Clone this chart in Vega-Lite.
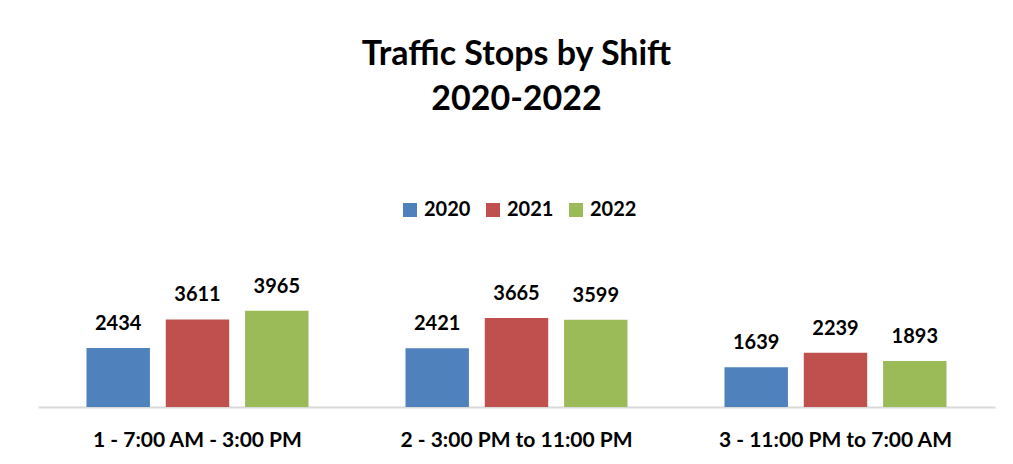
{
  "$schema": "https://vega.github.io/schema/vega-lite/v6.json",
  "width": 957,
  "height": 194,
  "autosize": {"type": "none"},
  "padding": {"left": 38, "top": 213, "right": 18, "bottom": 57},
  "background": "white",
  "title": {
    "text": ["Traffic Stops by Shift", "2020-2022"],
    "font": "Lato",
    "fontSize": 34,
    "fontWeight": "bold",
    "color": "black",
    "lineHeight": 45,
    "anchor": "middle",
    "offset": 83
  },
  "data": {
    "values": [
      {"shift": "1 - 7:00 AM - 3:00 PM", "year": "2020", "stops": 2434},
      {"shift": "1 - 7:00 AM - 3:00 PM", "year": "2021", "stops": 3611},
      {"shift": "1 - 7:00 AM - 3:00 PM", "year": "2022", "stops": 3965},
      {"shift": "2 - 3:00 PM to 11:00 PM", "year": "2020", "stops": 2421},
      {"shift": "2 - 3:00 PM to 11:00 PM", "year": "2021", "stops": 3665},
      {"shift": "2 - 3:00 PM to 11:00 PM", "year": "2022", "stops": 3599},
      {"shift": "3 - 11:00 PM to 7:00 AM", "year": "2020", "stops": 1639},
      {"shift": "3 - 11:00 PM to 7:00 AM", "year": "2021", "stops": 2239},
      {"shift": "3 - 11:00 PM to 7:00 AM", "year": "2022", "stops": 1893}
    ]
  },
  "encoding": {
    "x": {
      "field": "shift",
      "type": "nominal",
      "sort": null,
      "scale": {"paddingInner": 0.304, "paddingOuter": 0.152},
      "axis": {
        "title": null,
        "labelAngle": 0,
        "domainColor": "#d9d9d9",
        "domainWidth": 2,
        "ticks": false,
        "labelFont": "Lato",
        "labelFontSize": 21,
        "labelFontWeight": "bold",
        "labelColor": "black",
        "labelPadding": 22,
        "labelLimit": 0
      }
    },
    "xOffset": {
      "field": "year",
      "type": "nominal",
      "scale": {"paddingInner": 0.2, "paddingOuter": 0}
    },
    "y": {
      "field": "stops",
      "type": "quantitative",
      "scale": {"domain": [0, 8000], "nice": false},
      "axis": null
    }
  },
  "layer": [
    {
      "mark": {"type": "bar"},
      "encoding": {
        "color": {
          "field": "year",
          "type": "nominal",
          "scale": {"range": ["#4F81BD", "#C0504D", "#9BBB59"]},
          "legend": {
            "title": null,
            "orient": "none",
            "direction": "horizontal",
            "legendX": 362,
            "legendY": -13,
            "symbolType": "square",
            "symbolSize": 196,
            "symbolStrokeWidth": 0,
            "labelFont": "Lato",
            "labelFontSize": 20,
            "labelFontWeight": "bold",
            "labelColor": "black",
            "labelOffset": 4,
            "columnPadding": 12
          }
        }
      }
    },
    {
      "mark": {
        "type": "text",
        "baseline": "alphabetic",
        "dy": -18,
        "font": "Lato",
        "fontSize": 20,
        "fontWeight": "bold",
        "color": "black"
      },
      "encoding": {
        "text": {"field": "stops", "type": "quantitative", "format": "d"}
      }
    }
  ],
  "config": {"view": {"stroke": null}}
}
